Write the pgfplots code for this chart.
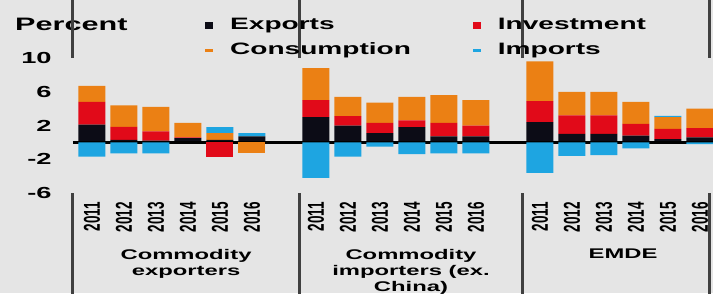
\documentclass[border=0pt]{standalone}
\usepackage{pgfplots}
\pgfplotsset{compat=1.18}
\usepackage{pgfplotstable}
\usepackage{graphicx}
\usepackage{fontspec}
\setmainfont{Liberation Sans}[FakeStretch=1.7]
\newfontfamily\yrfont{Liberation Sans}
\definecolor{bg}{RGB}{229,229,229}
\definecolor{cexp}{RGB}{12,12,22}
\definecolor{cinv}{RGB}{225,10,25}
\definecolor{ccon}{RGB}{235,128,20}
\definecolor{cimp}{RGB}{30,165,225}
\newcommand\yr[1]{\scalebox{1.7}[1]{\rotatebox{90}{\yrfont\bfseries\fontsize{13.5}{14}\selectfont #1}}}

% positive contributions (percentage points)
\pgfplotstableread{
x  exp  inv   con   imp
0  2.1  2.7   1.9   0
1  0.3  1.55  2.55  0
2  0.2  1.1   2.9   0
3  0.5  0.1   1.7   0
4  0.3  0     0.8   0.7
5  0.7  0     0     0.4
7  3.0  2.0   3.8   0
8  2.0  1.1   2.3   0
9  1.1  1.2   2.4   0
10 1.8  0.8   2.8   0
11 0.7  1.6   3.3   0
12 0.7  1.3   3.0   0
14 2.4  2.5   4.7   0
15 1.0  2.2   2.8   0
16 1.0  2.2   2.8   0
17 0.8  1.4   2.6   0
18 0.4  1.2   1.4   0.15
19 0.6  1.1   2.3   0
}\pos
% negative contributions
\pgfplotstableread{
x  exp  inv   con   imp
0  0    0     0     -1.7
1  0    0     0     -1.3
2  0    0     0     -1.3
3  0    0     0     0
4  0    -1.7  0     0
5  0    0     -1.2  0
7  0    0     0     -4.2
8  0    0     0     -1.7
9  0    0     0     -0.5
10 0    0     0     -1.4
11 0    0     0     -1.3
12 0    0     0     -1.3
14 0    0     0     -3.6
15 0    0     0     -1.6
16 0    0     0     -1.5
17 0    0     0     -0.7
18 0    0     0     0
19 0    0     0     -0.2
}\neg

\begin{document}
\begin{tikzpicture}[x=1pt,y=1pt]
\useasboundingbox (0,0) rectangle (713,293);
\fill[bg] (0,0) rectangle (713,293);
\node[anchor=base west, inner sep=0pt, font=\bfseries\fontsize{18}{20}\selectfont] at (15,263) {Percent};
\begin{axis}[
  at={(72.8pt,100pt)}, anchor=south west, scale only axis,
  width=640.2pt, height=135pt,
  xmin=-0.6, xmax=19.41, ymin=-6, ymax=10,
  ybar stacked, bar width=27pt,
  axis line style={draw=none},
  major tick length=0pt,
  ytick={-6,-2,2,6,10}, yticklabels={-6,-2,2,6,10},
  yticklabel style={anchor=east, inner sep=0pt, xshift=-21pt, font=\bfseries\fontsize{16}{17}\selectfont},
  xtick={0,1,2,3,4,5,7,8,9,10,11,12,14,15,16,17,18,19},
  xticklabels={\yr{2011},\yr{2012},\yr{2013},\yr{2014},\yr{2015},\yr{2016},
               \yr{2011},\yr{2012},\yr{2013},\yr{2014},\yr{2015},\yr{2016},
               \yr{2011},\yr{2012},\yr{2013},\yr{2014},\yr{2015},\yr{2016}},
  xticklabel style={anchor=north, inner sep=0pt, yshift=-9pt},
  extra x ticks={-0.6,6.5,13.47,19.31},
  extra x tick labels={},
  extra x tick style={major tick length=110pt, tick align=outside, tick style={line width=3pt, black!75}},
  clip=false,
  legend columns=2,
  legend cell align=left,
  legend style={at={(0.2065,1.30)}, anchor=north west, draw=none, fill=none, inner sep=0pt,
    font=\bfseries\fontsize{16.5}{18}\selectfont,
    nodes={inner sep=0pt, text height=12pt, text depth=3pt},
    row sep=10pt,
    /tikz/every odd column/.append style={column sep=17pt},
    /tikz/every even column/.append style={column sep=62pt}},
]
\addplot[fill=cexp, draw=none, legend image code/.code={\fill[cexp] (0pt,-3.5pt) rectangle (8pt,3.5pt);}] table[x=x,y=exp]{\pos};
\addlegendentry{Exports}
\addplot[fill=cinv, draw=none, legend image code/.code={\fill[cinv] (0pt,-3.5pt) rectangle (8pt,3.5pt);}] table[x=x,y=inv]{\pos};
\addlegendentry{Investment}
\addplot[fill=ccon, draw=none, legend image code/.code={\fill[ccon] (0pt,-1.5pt) rectangle (8pt,1.5pt);}] table[x=x,y=con]{\pos};
\addlegendentry{Consumption}
\addplot[fill=cimp, draw=none, legend image code/.code={\fill[cimp] (0pt,-1.5pt) rectangle (8pt,1.5pt);}] table[x=x,y=imp]{\pos};
\addlegendentry{Imports}
\node[anchor=north, inner sep=0pt, align=center, font=\bfseries\fontsize{14}{16}\selectfont] at (axis cs:2.94,-6) [yshift=-56pt] {Commodity\\exporters};
\node[anchor=north, inner sep=0pt, align=center, font=\bfseries\fontsize{14}{16}\selectfont] at (axis cs:9.97,-6) [yshift=-56pt] {Commodity\\importers (ex.\\China)};
\node[anchor=north, inner sep=0pt, align=center, font=\bfseries\fontsize{14}{16}\selectfont] at (axis cs:16.6,-6) [yshift=-56pt] {EMDE};
\end{axis}
\begin{axis}[
  at={(72.8pt,100pt)}, anchor=south west, scale only axis,
  width=640.2pt, height=135pt,
  xmin=-0.6, xmax=19.41, ymin=-6, ymax=10,
  ybar stacked, bar width=27pt, hide axis, clip=false,
]
\addplot[fill=cexp, draw=none] table[x=x,y=exp]{\neg};
\addplot[fill=cinv, draw=none] table[x=x,y=inv]{\neg};
\addplot[fill=ccon, draw=none] table[x=x,y=con]{\neg};
\addplot[fill=cimp, draw=none] table[x=x,y=imp]{\neg};
\draw[line width=3.5pt, black] (axis cs:-0.6,0) -- (axis cs:19.41,0);
\end{axis}
\end{tikzpicture}
\end{document}
